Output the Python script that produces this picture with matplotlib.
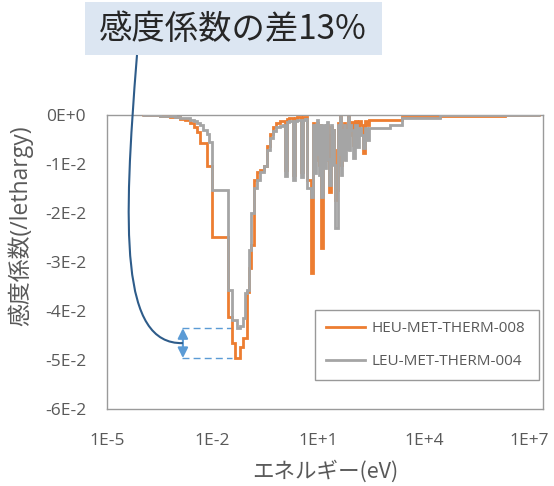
import matplotlib
matplotlib.use("Agg")
import matplotlib.pyplot as plt
from matplotlib.lines import Line2D
from matplotlib.patches import Rectangle, PathPatch
from matplotlib.path import Path
from matplotlib.transforms import IdentityTransform
from matplotlib.ticker import NullLocator

plt.rcParams['font.family'] = ['Open Sans', 'Noto Sans CJK JP', 'DejaVu Sans']

# Group boundaries (eV) shared by both sensitivity profiles
energy_edges = [
    1.0e-4, 3.19e-4, 6.14e-4, 8.51e-4, 1.18e-3, 1.64e-3, 2.27e-3, 2.95e-3,
    3.58e-3, 4.36e-3, 5.31e-3, 6.89e-3, 7.85e-3, 9.56e-3,
    2.72e-2, 3.53e-2, 4.30e-2, 4.90e-2, 5.96e-2, 7.25e-2, 8.26e-2, 9.42e-2,
    0.107, 0.122, 0.149, 0.181, 0.220, 0.286, 0.348, 0.423, 0.515, 0.627, 0.814,
    0.990, 1.128, 1.286, 1.465, 1.670, 1.903, 2.168, 2.471, 2.816, 3.209,
    3.657, 4.168, 4.749, 5.412,
    6.168, 6.584, 7.029, 7.503, 8.010, 8.550, 9.128, 9.744, 10.40, 11.10,
    11.85, 12.65, 13.51, 14.42, 15.39, 16.43, 17.54, 18.72, 19.99, 21.34,
    22.78, 24.32, 25.96, 27.71, 29.58, 31.58, 33.71, 35.98, 38.42, 41.01,
    43.78, 46.73, 49.89, 53.26, 56.86, 60.69, 64.79, 69.16, 73.84, 78.82,
    84.14, 95.89, 109.3, 124.5, 141.9, 161.7, 184.3, 210.0, 239.3, 272.7,
    310.8, 1079, 2363, 2.83e4, 1.98e6, 2.0e7,
]

# Sensitivity per unit lethargy, HEU-MET-THERM-008
heu_values = [
    -0.0001, -0.0002, -0.00037, -0.0005, -0.0008, -0.001, -0.0016, -0.0024,
    -0.0035, -0.0057, -0.0057, -0.0104, -0.0104, -0.0250,
    -0.0412, -0.0465, -0.0496, -0.0496, -0.0473, -0.0455, -0.0455, -0.0361,
    -0.0312, -0.0265, -0.0133, -0.0116, -0.0112, -0.0104, -0.0063, -0.0039,
    -0.0024, -0.0016, -0.0013,
    -0.0012, -0.0112, -0.0008, -0.0006, -0.0006, -0.0122, -0.0006, -0.0004,
    -0.0004, -0.0116, -0.0004, -0.0004, -0.0133, -0.0133,
    -0.0322, -0.0322, -0.0016, -0.0030, -0.0092, -0.0020, -0.0016, -0.0025,
    -0.0102, -0.0020, -0.0271, -0.0271, -0.0024, -0.0030, -0.0092, -0.0020,
    -0.0020, -0.0040, -0.0157, -0.0157, -0.0025, -0.0051, -0.0030, -0.0071,
    -0.0173, -0.0173, -0.0153, -0.0016, -0.0030, -0.0005, -0.0102, -0.0025,
    -0.0031, -0.0016, -0.0051, -0.0020, -0.0030, -0.0005, -0.0041, -0.0014,
    -0.0014, -0.0061, -0.0012, -0.0041, -0.0012, -0.0020, -0.0078, -0.0012,
    -0.0020, -0.0010,
    -0.0010, -0.0010, -0.0004, -0.0002, -0.00005,
]

# Sensitivity per unit lethargy, LEU-MET-THERM-004
leu_values = [
    -0.00006, -0.00012, -0.00027, -0.0004, -0.0006, -0.0007, -0.0010, -0.0013,
    -0.0016, -0.0020, -0.0031, -0.0039, -0.0055, -0.0153,
    -0.0357, -0.0418, -0.0418, -0.0435, -0.0431, -0.0414, -0.0363, -0.0357,
    -0.0276, -0.0200, -0.0149, -0.0133, -0.0116, -0.0104, -0.0071, -0.0047,
    -0.0033, -0.0024, -0.0022,
    -0.0020, -0.0124, -0.0014, -0.0012, -0.0012, -0.0133, -0.0012, -0.0010,
    -0.0010, -0.0127, -0.0010, -0.0008, -0.0149, -0.0149,
    -0.0167, -0.0167, -0.0020, -0.0090, -0.0118, -0.0020, -0.0010, -0.0080,
    -0.0122, -0.0020, -0.0167, -0.0167, -0.0020, -0.0095, -0.0108, -0.0020,
    -0.0014, -0.0090, -0.0143, -0.0143, -0.0020, -0.0100, -0.0030, -0.0102,
    -0.0231, -0.0231, -0.0231, -0.0020, -0.0080, -0.0005, -0.0122, -0.0030,
    -0.0090, -0.0020, -0.0092, -0.0030, -0.0070, -0.0005, -0.0071, -0.0020,
    -0.0031, -0.0088, -0.0020, -0.0065, -0.0027, -0.0041, -0.0067, -0.0027,
    -0.0051, -0.0027,
    -0.0027, -0.0020, -0.0007, -0.00005, -0.00003,
]

series_names = ['HEU-MET-THERM-008', 'LEU-MET-THERM-004']
x_ticks = [1e-5, 1e-2, 1e1, 1e4, 1e7]
x_tick_labels = ['1E-5', '1E-2', '1E+1', '1E+4', '1E+7']
y_ticks = [0, -0.01, -0.02, -0.03, -0.04, -0.05, -0.06]
y_tick_labels = ['0E+0', '-1E-2', '-2E-2', '-3E-2', '-4E-2', '-5E-2', '-6E-2']
title_text = '感度係数の差13%'

ORANGE = '#ED7D31'
GRAY = '#A5A5A5'
BLUE = '#5B9BD5'
TEXT = '#595959'
FRAME = '#9A9A9A'

W, H = 554, 486
fig = plt.figure(figsize=(W / 100, H / 100), dpi=100)
ax = fig.add_axes([107 / W, 1 - 409 / H, 436 / W, 294 / H])

ax.stairs(heu_values, energy_edges, baseline=None, color=ORANGE, lw=2.0, zorder=3)
ax.stairs(leu_values, energy_edges, baseline=None, color=GRAY, lw=2.0, zorder=4)

ax.set_xscale('log')
ax.set_xlim(1e-5, 2.4e7)
ax.set_ylim(-0.06, 0)
ax.set_xticks(x_ticks)
ax.set_xticklabels(x_tick_labels)
ax.xaxis.set_minor_locator(NullLocator())
ax.set_yticks(y_ticks)
ax.set_yticklabels(y_tick_labels)
ax.tick_params(axis='both', length=0, labelsize=12.5, labelcolor=TEXT)
ax.tick_params(axis='x', pad=17)
ax.tick_params(axis='y', pad=15)
for s in ax.spines.values():
    s.set_color(FRAME)
    s.set_linewidth(1.0)

ax.set_xlabel('エネルギー(eV)', fontsize=15.5, color=TEXT,
              family=['Noto Sans CJK JP', 'DejaVu Sans'])
ax.xaxis.set_label_coords(0.5, -0.175)
ax.set_ylabel('感度係数(/lethargy)', fontsize=16.5, color=TEXT,
              family=['Open Sans', 'Noto Sans CJK JP', 'DejaVu Sans'])
ax.yaxis.set_label_coords(-0.17, 0.622)

handles = [Line2D([], [], color=ORANGE, lw=2.0), Line2D([], [], color=GRAY, lw=2.0)]
leg = ax.legend(handles, series_names, loc='lower left',
                bbox_to_anchor=(0.477, 0.0986, 0.514, 0.228), mode='expand',
                fontsize=11, frameon=True, fancybox=False, edgecolor='#808080',
                handlelength=2.6, handletextpad=0.4, labelspacing=1.2,
                borderpad=0.7, borderaxespad=0)
leg.get_frame().set_linewidth(1.0)
for t in leg.get_texts():
    t.set_color(TEXT)

# difference marker between the two minima
g_min = min(leu_values)
h_min = min(heu_values)
x_arrow = 1.43e-3
ax.hlines([g_min, h_min], 1.35e-3, 3.5e-2, colors=BLUE, linestyles=(0, (5, 3)),
          lw=1.0, zorder=2)
ax.annotate('', xy=(x_arrow, h_min), xytext=(x_arrow, g_min),
            arrowprops=dict(arrowstyle='<|-|>', color=BLUE, lw=1.5,
                            mutation_scale=15, shrinkA=0, shrinkB=0), zorder=5)

# heading box
fig.add_artist(Rectangle((85 / W, 1 - 55 / H), 297 / W, 53 / H,
                         transform=fig.transFigure, facecolor='#DCE6F2',
                         edgecolor='none'))
fig.text(233 / W, 1 - 29 / H, title_text, ha='center', va='center',
         fontsize=24, color='#262626', family=['Noto Sans CJK JP', 'DejaVu Sans'])

# connector from heading to the arrow
fig.canvas.draw()
ex, ey = ax.transData.transform((x_arrow, (g_min + h_min) / 2))
p0 = (137, H - 55)
p1 = (123, H - 230)
p2 = (120, H - 345)
path = Path([p0, p1, p2, (ex, ey)],
            [Path.MOVETO, Path.CURVE4, Path.CURVE4, Path.CURVE4])
fig.add_artist(PathPatch(path, transform=IdentityTransform(), fill=False,
                         edgecolor='#2E5C8A', lw=1.5))

fig.savefig('out.png', dpi=100)
